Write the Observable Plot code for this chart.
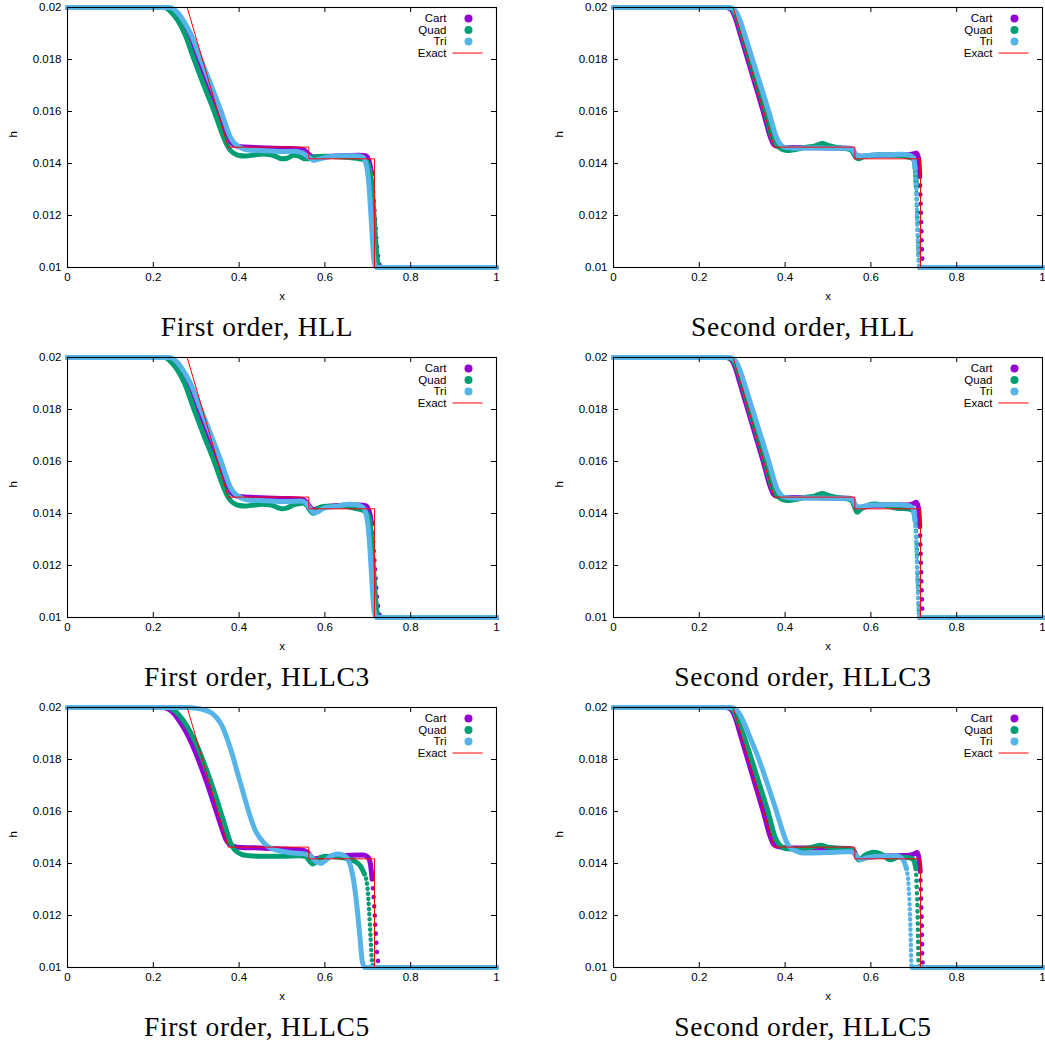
<!DOCTYPE html>
<html><head><meta charset="utf-8">
<script src="https://cdn.jsdelivr.net/npm/d3@7"></script>
<script src="https://cdn.jsdelivr.net/npm/@observablehq/plot@0.6"></script>
<style>
html,body{margin:0;padding:0;background:#fff;overflow:hidden;width:1045px;height:1047px}
#root{position:relative;width:1045px;height:1047px}
.panel{position:absolute}
.cap{position:absolute;font-family:"Liberation Serif","Times New Roman",serif;font-size:27.5px;letter-spacing:0.7px;white-space:nowrap;transform:translateX(-50%);line-height:1;color:#000}
</style></head><body><div id="root"></div>
<script>
// ---------- tick values, labels, names ----------
const xTicks = [0, 0.2, 0.4, 0.6, 0.8, 1];
const yTicks = [0.01, 0.012, 0.014, 0.016, 0.018, 0.02];
const seriesNames = ["Cart", "Quad", "Tri", "Exact"];
const seriesColors = ["#9400d3", "#009e73", "#56b4e9", "#ff0000"];
const captions = ["First order, HLL", "Second order, HLL", "First order, HLLC3", "Second order, HLLC3", "First order, HLLC5", "Second order, HLLC5"];
const xLabel = "x";
const yLabel = "h";

// ---------- exact solution ----------
const exactX = [0, 0.279, 0.3745, 0.5625, 0.5625, 0.7156, 0.7156, 1];
const exactH = [0.02, 0.02, 0.01463, 0.01463, 0.01418, 0.01418, 0.01, 0.01];

// ---------- First order, HLL ----------
const foHllCart = [[0,0.02],[0.228,0.02],[0.25,0.0198],[0.263,0.0195],[0.28,0.019],[0.303,0.018],[0.326,0.017],[0.35,0.016],[0.373,0.015],[0.381,0.0148],[0.39,0.0147],[0.405,0.01464],[0.45,0.01461],[0.50,0.01458],[0.54,0.01456],[0.553,0.0145],[0.562,0.01435],[0.572,0.01425],[0.60,0.01427],[0.64,0.0143],[0.68,0.01432],[0.695,0.0143],[0.703,0.0141],[0.709,0.0136],[0.713,0.0128],[0.717,0.0118],[0.721,0.0109],[0.725,0.0103],[0.73,0.01],[1,0.01]];
const foHllQuad = [[0,0.02],[0.226,0.02],[0.243,0.0198],[0.257,0.0195],[0.273,0.019],[0.295,0.018],[0.318,0.017],[0.342,0.016],[0.364,0.015],[0.372,0.0147],[0.38,0.0145],[0.39,0.01437],[0.40,0.01431],[0.415,0.01429],[0.435,0.01433],[0.455,0.01437],[0.475,0.01433],[0.49,0.01424],[0.50,0.01418],[0.512,0.0142],[0.527,0.01432],[0.54,0.01428],[0.552,0.01418],[0.562,0.01418],[0.575,0.01425],[0.60,0.01428],[0.64,0.01425],[0.68,0.01418],[0.695,0.01412],[0.704,0.0138],[0.71,0.0131],[0.714,0.0121],[0.718,0.0111],[0.722,0.0103],[0.727,0.01],[1,0.01]];
const foHllTri = [[0,0.02],[0.238,0.02],[0.257,0.0198],[0.27,0.0195],[0.287,0.019],[0.311,0.018],[0.335,0.017],[0.358,0.016],[0.38,0.015],[0.388,0.0148],[0.395,0.0147],[0.405,0.0146],[0.42,0.01452],[0.46,0.01449],[0.50,0.01446],[0.53,0.01447],[0.548,0.0144],[0.56,0.01428],[0.574,0.01412],[0.588,0.01418],[0.61,0.01426],[0.64,0.0143],[0.67,0.0143],[0.688,0.01425],[0.697,0.0139],[0.703,0.0131],[0.707,0.0121],[0.711,0.011],[0.715,0.0102],[0.72,0.01],[1,0.01]];

// ---------- Second order, HLL ----------
const soHllCart = [[0,0.02],[0.262,0.02],[0.272,0.01995],[0.279,0.0198],[0.286,0.0195],[0.295,0.019],[0.313,0.018],[0.331,0.017],[0.349,0.016],[0.366,0.015],[0.371,0.0148],[0.376,0.0147],[0.384,0.01465],[0.395,0.01462],[0.45,0.01461],[0.50,0.0146],[0.55,0.01459],[0.558,0.01452],[0.565,0.01432],[0.575,0.01428],[0.62,0.01432],[0.68,0.01433],[0.698,0.01437],[0.706,0.0144],[0.711,0.0142],[0.714,0.0135],[0.716,0.0125],[0.718,0.0113],[0.72,0.0103],[0.722,0.01],[1,0.01]];
const soHllQuad = [[0,0.02],[0.265,0.02],[0.275,0.01995],[0.282,0.0198],[0.29,0.0195],[0.299,0.019],[0.317,0.018],[0.335,0.017],[0.353,0.016],[0.37,0.015],[0.376,0.0148],[0.381,0.0147],[0.388,0.0146],[0.397,0.01452],[0.405,0.0145],[0.42,0.01453],[0.45,0.01463],[0.47,0.01468],[0.487,0.01477],[0.50,0.0147],[0.52,0.01462],[0.545,0.01456],[0.556,0.01448],[0.564,0.01425],[0.572,0.01418],[0.585,0.01428],[0.62,0.01434],[0.66,0.01432],[0.685,0.01426],[0.698,0.01418],[0.703,0.0139],[0.706,0.0131],[0.708,0.0121],[0.71,0.0111],[0.712,0.0103],[0.714,0.01],[1,0.01]];
const soHllTri = [[0,0.02],[0.27,0.02],[0.28,0.01995],[0.287,0.0198],[0.295,0.0195],[0.305,0.019],[0.324,0.018],[0.343,0.017],[0.362,0.016],[0.38,0.015],[0.386,0.0148],[0.391,0.0147],[0.40,0.01462],[0.42,0.01459],[0.46,0.0146],[0.50,0.01459],[0.54,0.01459],[0.556,0.01455],[0.564,0.01437],[0.572,0.01428],[0.60,0.01432],[0.64,0.01434],[0.67,0.01436],[0.69,0.01432],[0.70,0.0142],[0.703,0.0138],[0.706,0.0129],[0.708,0.0118],[0.71,0.0107],[0.712,0.0101],[0.714,0.01],[1,0.01]];

// ---------- First order, HLLC3 ----------
const foHllc3Cart = [[0,0.02],[0.228,0.02],[0.25,0.0198],[0.263,0.0195],[0.28,0.019],[0.303,0.018],[0.326,0.017],[0.35,0.016],[0.373,0.015],[0.381,0.0148],[0.39,0.0147],[0.405,0.01464],[0.45,0.01461],[0.50,0.01458],[0.54,0.01456],[0.553,0.0145],[0.562,0.01432],[0.572,0.01415],[0.585,0.0142],[0.61,0.01428],[0.65,0.01432],[0.68,0.01433],[0.695,0.0143],[0.703,0.0141],[0.709,0.0136],[0.713,0.0128],[0.717,0.0118],[0.721,0.0109],[0.725,0.0103],[0.73,0.01],[1,0.01]];
const foHllc3Quad = [[0,0.02],[0.226,0.02],[0.243,0.0198],[0.257,0.0195],[0.273,0.019],[0.295,0.018],[0.318,0.017],[0.342,0.016],[0.364,0.015],[0.372,0.0147],[0.38,0.0145],[0.39,0.01437],[0.40,0.01431],[0.415,0.01429],[0.435,0.01433],[0.455,0.01436],[0.475,0.01432],[0.49,0.01423],[0.50,0.01418],[0.512,0.01422],[0.525,0.01432],[0.54,0.01438],[0.55,0.0144],[0.558,0.0143],[0.566,0.0141],[0.573,0.014],[0.582,0.01418],[0.60,0.01428],[0.64,0.01428],[0.67,0.0142],[0.69,0.01412],[0.702,0.0139],[0.708,0.0132],[0.712,0.0122],[0.716,0.0112],[0.72,0.0104],[0.725,0.01],[1,0.01]];
const foHllc3Tri = [[0,0.02],[0.238,0.02],[0.257,0.0198],[0.27,0.0195],[0.287,0.019],[0.311,0.018],[0.335,0.017],[0.358,0.016],[0.38,0.015],[0.388,0.0148],[0.395,0.0147],[0.405,0.0146],[0.42,0.01452],[0.46,0.01449],[0.50,0.01446],[0.53,0.01447],[0.545,0.01448],[0.556,0.0144],[0.565,0.0142],[0.575,0.01402],[0.585,0.01408],[0.60,0.01422],[0.63,0.01428],[0.655,0.01436],[0.67,0.01435],[0.688,0.01425],[0.697,0.0139],[0.703,0.0131],[0.707,0.0121],[0.711,0.011],[0.715,0.0102],[0.72,0.01],[1,0.01]];

// ---------- Second order, HLLC3 ----------
const soHllc3Cart = [[0,0.02],[0.262,0.02],[0.272,0.01995],[0.279,0.0198],[0.286,0.0195],[0.295,0.019],[0.313,0.018],[0.331,0.017],[0.349,0.016],[0.366,0.015],[0.371,0.0148],[0.376,0.0147],[0.384,0.01465],[0.395,0.01462],[0.45,0.01461],[0.50,0.0146],[0.55,0.01459],[0.558,0.01452],[0.565,0.0142],[0.572,0.01415],[0.585,0.01425],[0.62,0.01432],[0.68,0.01433],[0.698,0.01437],[0.706,0.01443],[0.711,0.0142],[0.714,0.0135],[0.716,0.0125],[0.718,0.0113],[0.72,0.0103],[0.722,0.01],[1,0.01]];
const soHllc3Quad = [[0,0.02],[0.265,0.02],[0.275,0.01995],[0.282,0.0198],[0.29,0.0195],[0.299,0.019],[0.317,0.018],[0.335,0.017],[0.353,0.016],[0.37,0.015],[0.376,0.0148],[0.381,0.0147],[0.388,0.0146],[0.397,0.01452],[0.405,0.0145],[0.42,0.01453],[0.45,0.01463],[0.47,0.01468],[0.487,0.01477],[0.50,0.0147],[0.52,0.01462],[0.545,0.01456],[0.556,0.01448],[0.563,0.0142],[0.568,0.01405],[0.578,0.0142],[0.61,0.01437],[0.64,0.01428],[0.66,0.0142],[0.685,0.01418],[0.698,0.01412],[0.703,0.0138],[0.706,0.0131],[0.708,0.0121],[0.71,0.0111],[0.712,0.0103],[0.714,0.01],[1,0.01]];
const soHllc3Tri = [[0,0.02],[0.27,0.02],[0.28,0.01995],[0.287,0.0198],[0.295,0.0195],[0.305,0.019],[0.324,0.018],[0.343,0.017],[0.362,0.016],[0.38,0.015],[0.386,0.0148],[0.391,0.0147],[0.40,0.01462],[0.42,0.01459],[0.46,0.0146],[0.50,0.01459],[0.54,0.01459],[0.556,0.01455],[0.565,0.0143],[0.572,0.01425],[0.60,0.01432],[0.65,0.01435],[0.69,0.0143],[0.70,0.0141],[0.703,0.0137],[0.706,0.0128],[0.708,0.0118],[0.71,0.0107],[0.712,0.0101],[0.714,0.01],[1,0.01]];

// ---------- First order, HLLC5 ----------
const foHllc5Cart = [[0,0.02],[0.222,0.02],[0.245,0.01982],[0.26,0.0195],[0.275,0.0191],[0.29,0.0186],[0.305,0.018],[0.325,0.0171],[0.345,0.0161],[0.36,0.01535],[0.37,0.0149],[0.38,0.01472],[0.39,0.01465],[0.405,0.01462],[0.45,0.0146],[0.50,0.01456],[0.545,0.01452],[0.558,0.01445],[0.566,0.0143],[0.575,0.01418],[0.59,0.01422],[0.62,0.01428],[0.66,0.01432],[0.69,0.01433],[0.70,0.01425],[0.706,0.014],[0.71,0.0134],[0.714,0.0126],[0.718,0.0115],[0.722,0.0105],[0.726,0.01],[1,0.01]];
const foHllc5Quad = [[0,0.02],[0.232,0.02],[0.255,0.0198],[0.27,0.0195],[0.285,0.0191],[0.30,0.0186],[0.315,0.018],[0.335,0.0171],[0.355,0.0161],[0.37,0.0153],[0.38,0.0148],[0.39,0.01452],[0.40,0.0144],[0.41,0.01433],[0.45,0.01428],[0.50,0.01428],[0.54,0.0143],[0.555,0.01428],[0.563,0.01412],[0.572,0.01398],[0.583,0.01415],[0.60,0.01428],[0.63,0.01425],[0.655,0.01418],[0.67,0.01408],[0.683,0.0139],[0.692,0.0136],[0.699,0.0131],[0.703,0.0122],[0.706,0.0113],[0.709,0.0104],[0.712,0.01],[1,0.01]];
const foHllc5Tri = [[0,0.02],[0.28,0.02],[0.30,0.01997],[0.32,0.0199],[0.335,0.0198],[0.348,0.0196],[0.36,0.0193],[0.372,0.0188],[0.384,0.0182],[0.396,0.0175],[0.41,0.0167],[0.424,0.0159],[0.437,0.0153],[0.45,0.01495],[0.465,0.01468],[0.48,0.01455],[0.50,0.01447],[0.52,0.01441],[0.55,0.01438],[0.565,0.0143],[0.578,0.0141],[0.59,0.014],[0.60,0.0141],[0.615,0.0143],[0.63,0.01437],[0.642,0.01433],[0.652,0.0142],[0.66,0.0139],[0.667,0.01334],[0.675,0.01231],[0.681,0.01129],[0.687,0.01026],[0.693,0.01],[1,0.01]];

// ---------- Second order, HLLC5 ----------
const soHllc5Cart = [[0,0.02],[0.262,0.02],[0.272,0.01995],[0.279,0.0198],[0.286,0.0195],[0.295,0.019],[0.313,0.018],[0.331,0.017],[0.349,0.016],[0.366,0.015],[0.371,0.0148],[0.376,0.0147],[0.384,0.01465],[0.395,0.01462],[0.45,0.0146],[0.50,0.0146],[0.55,0.01458],[0.56,0.0145],[0.566,0.0143],[0.572,0.01418],[0.585,0.01422],[0.62,0.01428],[0.66,0.0143],[0.69,0.01432],[0.70,0.01436],[0.708,0.01442],[0.712,0.0142],[0.715,0.0137],[0.717,0.0127],[0.719,0.0114],[0.72,0.0104],[0.722,0.01],[1,0.01]];
const soHllc5Quad = [[0,0.02],[0.265,0.02],[0.276,0.01995],[0.283,0.0198],[0.29,0.0195],[0.302,0.019],[0.322,0.018],[0.341,0.017],[0.36,0.016],[0.377,0.015],[0.383,0.0148],[0.388,0.0147],[0.396,0.0146],[0.405,0.01457],[0.43,0.01456],[0.455,0.0146],[0.47,0.01466],[0.483,0.0147],[0.50,0.01463],[0.53,0.01458],[0.555,0.01455],[0.565,0.0143],[0.572,0.01413],[0.585,0.0143],[0.607,0.01443],[0.625,0.01435],[0.645,0.01414],[0.665,0.01425],[0.69,0.01422],[0.70,0.01412],[0.705,0.0138],[0.707,0.013],[0.709,0.012],[0.71,0.011],[0.711,0.0102],[0.713,0.01],[1,0.01]];
const soHllc5Tri = [[0,0.02],[0.272,0.02],[0.285,0.01993],[0.295,0.01972],[0.305,0.01938],[0.317,0.0189],[0.339,0.018],[0.36,0.017],[0.38,0.016],[0.397,0.0151],[0.404,0.0148],[0.413,0.0146],[0.425,0.01448],[0.44,0.0144],[0.50,0.01442],[0.54,0.01445],[0.555,0.01445],[0.566,0.0143],[0.576,0.01414],[0.59,0.01422],[0.62,0.01428],[0.66,0.0143],[0.675,0.01415],[0.683,0.0138],[0.688,0.0131],[0.691,0.0121],[0.693,0.011],[0.694,0.0102],[0.696,0.01],[1,0.01]];

const panelSeries = [
  [foHllCart, foHllQuad, foHllTri],
  [soHllCart, soHllQuad, soHllTri],
  [foHllc3Cart, foHllc3Quad, foHllc3Tri],
  [soHllc3Cart, soHllc3Quad, soHllc3Tri],
  [foHllc5Cart, foHllc5Quad, foHllc5Tri],
  [soHllc5Cart, soHllc5Quad, soHllc5Tri]
];
// how the sparse points of the shock front look (null = dense / solid)
const shockDash = [
  ["0.1,9", null, null],
  ["0.1,9", "0.1,6", "0.1,5"],
  ["0.1,9", null, null],
  ["0.1,9", "0.1,6", "0.1,5"],
  ["0.1,9", "0.1,5", null],
  ["0.1,9", "0.1,6", "0.1,5"]
];

// ---------- layout ----------
const root = document.getElementById("root");
const FONT = "'Liberation Sans', Arial, Helvetica, sans-serif";
const FS = 11.5;
const mT = 7, mB = 38, mL = 67, fH = 260;
const LW = 5;

function toRows(arr) { return arr.map(([x, h]) => ({x, h})); }
const exactRows = exactX.map((x, i) => ({x, h: exactH[i]}));
const lineSymbol = {draw(ctx) { ctx.moveTo(-15, 0); ctx.lineTo(15, 0); }};

panelSeries.forEach((series, idx) => {
  const col = idx % 2, row = Math.floor(idx / 2);
  const left = col === 0 ? 0 : 546;
  const width = col === 0 ? 514 : 499;
  const mR = col === 0 ? 18 : 3;
  const fW = width - mL - mR;
  const marks = [];
  series.forEach((s, i) => {
    const rows = toRows(s);
    const dash = shockDash[idx][i];
    const common = {x: "x", y: "h", stroke: seriesColors[i], strokeWidth: LW, curve: "monotone-x", strokeLinejoin: "round", strokeLinecap: "round"};
    if (!dash) {
      marks.push(Plot.line(rows, common));
    } else {
      // split off the steep shock front (sparse points)
      const a = rows.findIndex(d => d.x > 0.66 && d.h < 0.0139);
      const b = rows.findIndex((d, j) => j > a && d.h <= 0.01);
      const main = rows.map((d, j) => (j > a && j < b) ? {x: d.x, h: NaN} : d);
      marks.push(Plot.line(main, common));
      marks.push(Plot.line(rows.slice(a, b + 1), {...common, strokeDasharray: dash, strokeWidth: LW - 0.5}));
    }
  });
  marks.push(Plot.line(exactRows, {x: "x", y: "h", stroke: seriesColors[3], strokeWidth: 1}));
  marks.push(Plot.frame({stroke: "#000", strokeWidth: 1.1}));
  marks.push(Plot.tickX(xTicks, {x: d => d, insetTop: fH - 5, stroke: "#000"}));
  marks.push(Plot.tickX(xTicks, {x: d => d, insetBottom: fH - 5, stroke: "#000"}));
  marks.push(Plot.tickY(yTicks, {y: d => d, insetRight: fW - 5, stroke: "#000"}));
  marks.push(Plot.tickY(yTicks, {y: d => d, insetLeft: fW - 5, stroke: "#000"}));
  marks.push(Plot.axisX({ticks: xTicks, tickSize: 0, tickPadding: 5, tickFormat: d => String(d), label: null, fontSize: FS}));
  marks.push(Plot.axisY({ticks: yTicks, tickSize: 0, tickPadding: 6, tickFormat: d => String(d), label: null, fontSize: FS}));
  marks.push(Plot.text([xLabel], {frameAnchor: "bottom", dy: 29, lineAnchor: "middle", fontSize: FS, fill: "#000"}));
  marks.push(Plot.text([yLabel], {frameAnchor: "left", dx: -54, rotate: -90, lineAnchor: "middle", fontSize: FS, fill: "#000"}));
  // legend
  seriesNames.forEach((name, i) => {
    const dy = 11 + i * 11.5;
    marks.push(Plot.text([name], {frameAnchor: "top-right", dx: -50, dy, textAnchor: "end", lineAnchor: "middle", fontSize: FS, fill: "#000"}));
    if (i < 3) {
      marks.push(Plot.dot([name], {frameAnchor: "top-right", dx: -28, dy, r: 4, fill: seriesColors[i], stroke: "none"}));
    } else {
      marks.push(Plot.dot([name], {frameAnchor: "top-right", dx: -29, dy, symbol: lineSymbol, stroke: seriesColors[i], fill: "none", strokeWidth: 1}));
    }
  });
  const chart = Plot.plot({
    width, height: mT + fH + mB,
    marginTop: mT, marginBottom: mB, marginLeft: mL, marginRight: mR,
    x: {domain: [0, 1]},
    y: {domain: [0.01, 0.02]},
    style: {fontFamily: FONT, fontSize: FS + "px", color: "#000", background: "transparent", overflow: "visible"},
    marks
  });
  const div = document.createElement("div");
  div.className = "panel";
  div.style.left = left + "px";
  div.style.top = (row * 350) + "px";
  div.appendChild(chart);
  root.appendChild(div);
  const cap = document.createElement("div");
  cap.className = "cap";
  cap.textContent = captions[idx];
  cap.style.left = (col === 0 ? 257 : 803) + "px";
  cap.style.top = (row * 350 + 313) + "px";
  root.appendChild(cap);
});
</script></body></html>
